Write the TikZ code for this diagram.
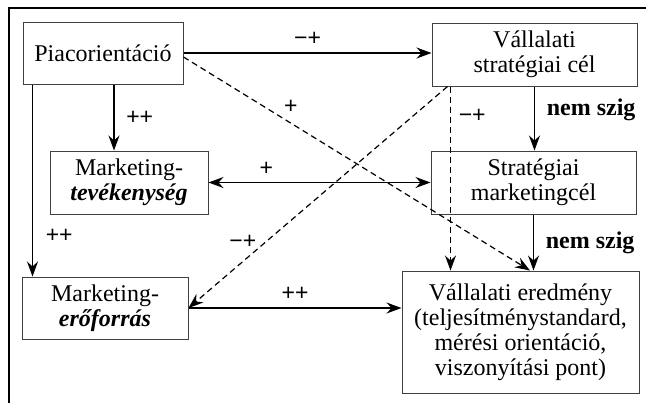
\documentclass[tikz,border=0pt]{standalone}
\usepackage{fontspec}
\setmainfont{Liberation Serif}
\setsansfont{Liberation Sans}
\usetikzlibrary{arrows.meta}

\begin{document}
\begin{tikzpicture}[x=0.5pt,y=-0.5pt,->,>={Stealth[length=7.5pt,width=5.5pt,inset=2.5pt]},
                    line width=0.6pt,
                    main node/.style={rectangle,draw=black!75,line width=0.5pt,align=center,inner sep=1pt,
                      font=\fontsize{12}{12.5}\selectfont},
                    dashline/.style={dash pattern=on 3pt off 2pt}]

  \useasboundingbox (0,0) rectangle (648,403);
  \draw[-,line width=0.6pt] (646,8) -- (9,8) -- (9,403);

  \node[main node,minimum width=80pt,minimum height=31pt] (piac) at (103,53) {Piacorientáció};
  \node[main node,minimum width=79pt,minimum height=31.5pt] (mtev) at (129,182.5) {Marketing-\\\textbf{\textit{tevékenység}}};
  \node[main node,minimum width=83pt,minimum height=31pt] (merf) at (105,308) {Marketing-\\\textbf{\textit{erőforrás}}};
  \node[main node,minimum width=102.5pt,minimum height=31.5pt] (vsc) at (534.5,54.5) {Vállalati\\stratégiai cél};
  \node[main node,minimum width=102.5pt,minimum height=31.5pt] (smc) at (533.5,182.5) {Stratégiai\\marketingcél};
  \node[main node,minimum width=118.5pt,minimum height=61pt] (ver) at (520.5,332) {Vállalati eredmény\\(teljesítménystandard,\\mérési orientáció,\\viszonyítási pont)};

  \path[every node/.style={font=\sffamily\fontsize{11.5}{11.5}\selectfont}]
    (piac.east) edge node[above] {−+} (piac.east -| vsc.west)
    ([xshift=5.5pt]piac.south) edge node[right,xshift=2.5pt] {++} ([xshift=5.5pt]piac.south |- mtev.north)
    ([xshift=5pt]piac.south west) edge node[pos=0.79,right,xshift=3pt] {++} ([xshift=5pt]piac.south west |- merf.north)
    ([yshift=-2pt]piac.east) edge[dashline] node[pos=0.31,above,yshift=1pt] {+} ([xshift=4.75pt]ver.north)
    (mtev.east) edge[<->] node[pos=0.26,above] {+} (mtev.east -| smc.west)
    (vsc.south) edge node[pos=0.37,right,xshift=2.5pt,font=\rmfamily\bfseries\fontsize{12}{12}\selectfont] {nem szig} (vsc.south |- smc.north)
    (smc.south) edge node[right,xshift=2.5pt,font=\rmfamily\bfseries\fontsize{12}{12}\selectfont] {nem szig} (smc.south |- ver.north)
    ([xshift=8pt]vsc.south west) edge[dashline] node[pos=0.79,above,yshift=3pt] {−+} (merf.east)
    ([xshift=9.5pt]vsc.south west) edge[dashline] node[pos=0.16,right,xshift=0.5pt] {−+} ([xshift=9.5pt]vsc.south west |- ver.north)
    (merf.east) edge node[above] {++} (merf.east -| ver.west);

\end{tikzpicture}
\end{document}
